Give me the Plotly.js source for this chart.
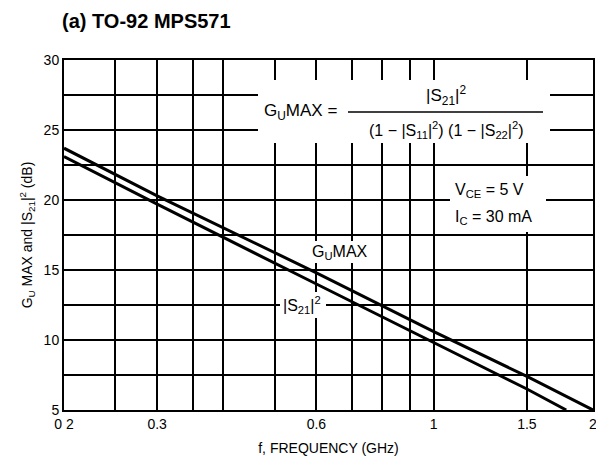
<!DOCTYPE html>
<html><head><meta charset="utf-8">
<script src="https://cdn.plot.ly/plotly-3.0.1.min.js"></script>
<style>body{margin:0;background:#fff}#c{width:596px;height:463px}</style>
</head><body><div id="c"></div>
<script>
// Data
const freqGU = [0.2, 0.3, 0.6, 1, 1.5, 2];
const gumax  = [23.7, 20.3, 14.8, 10.6, 7.4, 5.0];
const freqS21 = [0.2, 0.3, 0.6, 1, 1.5, 1.78];
const s21    = [23.1, 19.7, 14.0, 9.8, 6.5, 5.0];
const xTickVals = [0.2, 0.3, 0.6, 1, 1.5, 2];
const xTickText = ["0 2", "0.3", "0.6", "1", "1.5", "2"];
const xGridVals = [0.25, 0.35, 0.4, 0.5, 0.7, 0.8, 0.9];
const yTickVals = [5, 10, 15, 20, 25, 30];
const yTickText = ["5", "10", "15", "20", "25", "30"];
const yGridVals = [7.5, 12.5, 17.5, 22.5, 27.5];

const L=64, R=593, T=60, B=410;
const px = x => (x-L)/(R-L);
const py = y => (B-y)/(B-T);
const F = "Liberation Sans Narrow, Liberation Sans, Arial, sans-serif";

const lineStyle = {color:'#000', width:3};
const traces = [
  {x:freqGU, y:gumax, type:'scatter', mode:'lines', line:lineStyle, name:'GUMAX', hoverinfo:'skip'},
  {x:freqS21, y:s21, type:'scatter', mode:'lines', line:lineStyle, name:'|S21|2', hoverinfo:'skip'}
];

function ann(text, x, y, size, extra){
  return Object.assign({text:text, x:px(x), y:py(y), xref:'paper', yref:'paper', showarrow:false,
    font:{family:F, size:size, color:'#000'}, xanchor:'center', yanchor:'middle'}, extra||{});
}

const layout = {
  width:596, height:463,
  margin:{l:L, r:596-R, t:T, b:463-B},
  paper_bgcolor:'#fff', plot_bgcolor:'#fff',
  showlegend:false,
  title:{text:'<b>(a) TO-92 MPS571</b>', x:62/596, xanchor:'left', y:1-21/463, yanchor:'middle',
    font:{family:'Liberation Sans, Arial, sans-serif', size:20, color:'#000'}},
  xaxis:{type:'log', range:[Math.log10(0.2), Math.log10(2)], tickmode:'array', tickvals:xTickVals, ticktext:xTickText,
    showgrid:true, gridcolor:'#000', gridwidth:2, showline:true, linecolor:'#000', linewidth:2, mirror:true,
    minor:{tickmode:'array', tickvals:xGridVals, showgrid:true, gridcolor:'#000', gridwidth:2, ticks:''},
    ticks:'', ticklabeloverflow:'allow', tickfont:{family:F, size:14, color:'#000'}, zeroline:false,
    title:{text:'f, FREQUENCY (GHz)', font:{family:F, size:14, color:'#000'}, standoff:12}},
  yaxis:{range:[5,30], tickmode:'array', tickvals:yTickVals, ticktext:yTickText,
    showgrid:true, gridcolor:'#000', gridwidth:2, showline:true, linecolor:'#000', linewidth:2, mirror:true,
    minor:{tickmode:'array', tickvals:yGridVals, showgrid:true, gridcolor:'#000', gridwidth:2, ticks:''},
    ticks:'', tickfont:{family:F, size:14, color:'#000'}, zeroline:false,
    title:{text:'G<sub>U</sub> MAX and |S<sub>21</sub>|<sup>2</sup> (dB)', font:{family:F, size:14, color:'#000'}, standoff:8}},
  shapes:[
    {type:'rect', xref:'paper', yref:'paper', x0:px(258), x1:px(550), y0:py(143), y1:py(80), fillcolor:'#fff', line:{width:0}, layer:'above'},
    {type:'rect', xref:'paper', yref:'paper', x0:px(450), x1:px(546), y0:py(232), y1:py(176), fillcolor:'#fff', line:{width:0}, layer:'above'},
    {type:'rect', xref:'paper', yref:'paper', x0:px(307), x1:px(374), y0:py(263), y1:py(241), fillcolor:'#fff', line:{width:0}, layer:'above'},
    {type:'rect', xref:'paper', yref:'paper', x0:px(280), x1:px(326), y0:py(318), y1:py(292), fillcolor:'#fff', line:{width:0}, layer:'above'},
    {type:'line', xref:'paper', yref:'paper', x0:px(348), x1:px(543), y0:py(112), y1:py(112), line:{color:'#000', width:1.5}, layer:'above'}
  ],
  annotations:[
    ann('G<sub>U</sub>MAX =', 300, 112, 17),
    ann('|S<sub>21</sub>|<sup>2</sup>', 446, 95, 17),
    ann('(1 \u2212 |S<sub>11</sub>|<sup>2</sup>) (1 \u2212 |S<sub>22</sub>|<sup>2</sup>)', 446, 130, 16),
    ann('V<sub>CE</sub> = 5 V', 453, 190, 16, {xanchor:'left'}),
    ann('I<sub>C</sub> = 30 mA', 453, 217, 16, {xanchor:'left'}),
    ann('G<sub>U</sub>MAX', 340, 252, 16),
    ann('|S<sub>21</sub>|<sup>2</sup>', 302, 305, 16)
  ]
};
Plotly.newPlot('c', traces, layout, {staticPlot:true});
</script></body></html>
